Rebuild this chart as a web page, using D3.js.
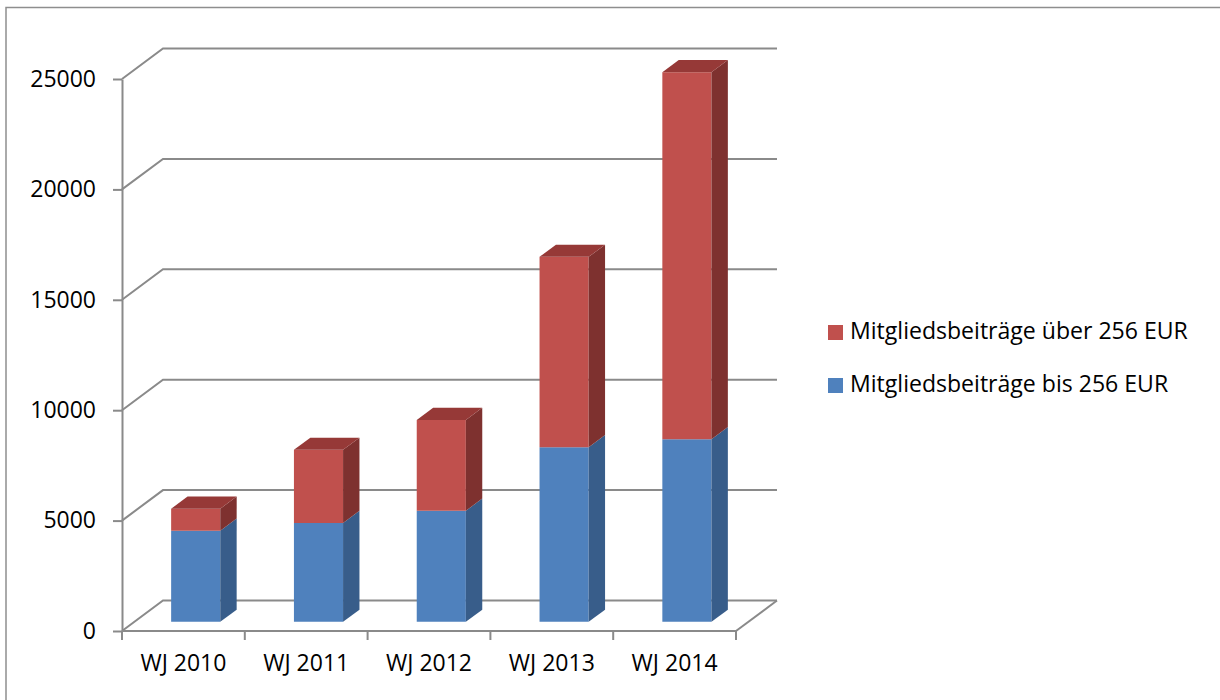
<!DOCTYPE html>
<html><head><meta charset="utf-8">
<script src="https://cdn.jsdelivr.net/npm/d3@7"></script>
<style>
body{margin:0;background:#fff}
svg{display:block}
text{font-family:"Open Sans",sans-serif;fill:#000}
</style>
</head><body>
<svg id="c" width="1220" height="700"></svg>
<script>
// ---- data ----
const categories = ["WJ 2010", "WJ 2011", "WJ 2012", "WJ 2013", "WJ 2014"];
const seriesKeys = ["bis", "ueber"];
const seriesNames = ["Mitgliedsbeiträge bis 256 EUR", "Mitgliedsbeiträge über 256 EUR"];
const valuesBis = [4130, 4480, 5030, 7910, 8270];
const valuesUeber = [990, 3310, 4110, 8620, 16620];
const yTicks = [0, 5000, 10000, 15000, 20000, 25000];

// ---- layout ----
const svg = d3.select("#c");
const X0 = 122, X1 = 736, YB = 631, YT = 79;
const DX = 41, DY = 30.5;          // depth vector of the 3D box
const Z0 = 0.3, Z1 = 0.7;          // bar depth range
const gridCol = "#8a8a8a";

const y = d3.scaleLinear().domain([0, 25000]).range([YB, YT]);
const x = d3.scaleBand().domain(categories).range([X0, X1]).paddingInner(0.6).paddingOuter(0.3);
const px = (xx, z) => xx + z * DX;
const py = (v, z) => y(v) - z * DY;

const colors = {
  bis:   {front: "#4F81BD", side: "#385D8A", top: "#4674AB"},
  ueber: {front: "#C0504D", side: "#7E312F", top: "#963937"}
};

// outer border
svg.append("rect").attr("x", 6).attr("y", 7.5).attr("width", 1300).attr("height", 800)
  .attr("fill", "none").attr("stroke", "#8e8e8e").attr("stroke-width", 1.5);

// back wall gridlines (with the side-wall diagonal)
const grid = svg.append("g").attr("fill", "none").attr("stroke", gridCol).attr("stroke-width", 2);
yTicks.forEach(t => {
  grid.append("path").attr("d", d3.line()([
    [px(X0, 0), py(t, 0)], [px(X0, 1), py(t, 1)], [px(X1, 1), py(t, 1)]
  ]));
});
// floor right edge
grid.append("path").attr("d", d3.line()([[px(X1, 1), py(0, 1)], [px(X1, 0), py(0, 0)]]));

// y axis
const yAxis = svg.append("g").attr("transform", `translate(${X0},0)`)
  .call(d3.axisLeft(y).tickValues(yTicks).tickSize(9).tickPadding(17).tickSizeOuter(0).tickFormat(d3.format("d")));
yAxis.select(".domain").attr("stroke", gridCol).attr("stroke-width", 2);
yAxis.selectAll(".tick line").attr("stroke", gridCol).attr("stroke-width", 2);
yAxis.selectAll(".tick text").style("font-size", "23px").attr("fill", "#000");

// x axis: labels centred in band, ticks at band boundaries
const xAxis = svg.append("g").attr("transform", `translate(0,${YB})`)
  .call(d3.axisBottom(x).tickSize(0).tickPadding(24).tickSizeOuter(0));
xAxis.select(".domain").remove();
xAxis.selectAll(".tick text").style("font-size", "23px").attr("fill", "#000");
const xa = svg.append("g").attr("stroke", gridCol).attr("stroke-width", 2);
xa.append("line").attr("x1", X0).attr("x2", X1).attr("y1", YB).attr("y2", YB);
const bScale = d3.scaleLinear().domain([0, categories.length]).range([X0, X1]);
d3.range(categories.length + 1).forEach(i => {
  xa.append("line").attr("x1", bScale(i)).attr("x2", bScale(i)).attr("y1", YB).attr("y2", YB + 9);
});

// stacked 3D bars
const rows = categories.map((c, i) => ({cat: c, bis: valuesBis[i], ueber: valuesUeber[i]}));
const stacked = d3.stack().keys(seriesKeys)(rows);
const bars = svg.append("g");
rows.forEach((r, i) => {
  const xl = x(r.cat), xr = xl + x.bandwidth();
  stacked.forEach((s, si) => {
    const [v0, v1] = s[i];
    const col = colors[s.key];
    bars.append("path").attr("fill", col.front).attr("d", d3.line()([
      [px(xl, Z0), py(v0, Z0)], [px(xr, Z0), py(v0, Z0)], [px(xr, Z0), py(v1, Z0)], [px(xl, Z0), py(v1, Z0)]
    ]) + "Z");
    bars.append("path").attr("fill", col.side).attr("d", d3.line()([
      [px(xr, Z0), py(v0, Z0)], [px(xr, Z1), py(v0, Z1)], [px(xr, Z1), py(v1, Z1)], [px(xr, Z0), py(v1, Z0)]
    ]) + "Z");
    if (si === stacked.length - 1) {
      bars.append("path").attr("fill", col.top).attr("d", d3.line()([
        [px(xl, Z0), py(v1, Z0)], [px(xr, Z0), py(v1, Z0)], [px(xr, Z1), py(v1, Z1)], [px(xl, Z1), py(v1, Z1)]
      ]) + "Z");
    }
  });
});

// legend (series in reverse order, like Excel)
const legend = svg.append("g");
const legendItems = [
  {name: seriesNames[1], key: "ueber", y: 325},
  {name: seriesNames[0], key: "bis", y: 378}
];
const lt = [];
legendItems.forEach(it => {
  legend.append("rect").attr("x", 828).attr("y", it.y).attr("width", 15).attr("height", 15)
    .attr("fill", colors[it.key].front);
  lt.push(legend.append("text").attr("x", 850).attr("y", it.y + 14).style("font-size", "20px").text(it.name));
});
const w0 = lt[0].node().getComputedTextLength();
const fs = 20 * 338 / w0;
lt.forEach(t => t.style("font-size", fs + "px"));
</script>
</body></html>
